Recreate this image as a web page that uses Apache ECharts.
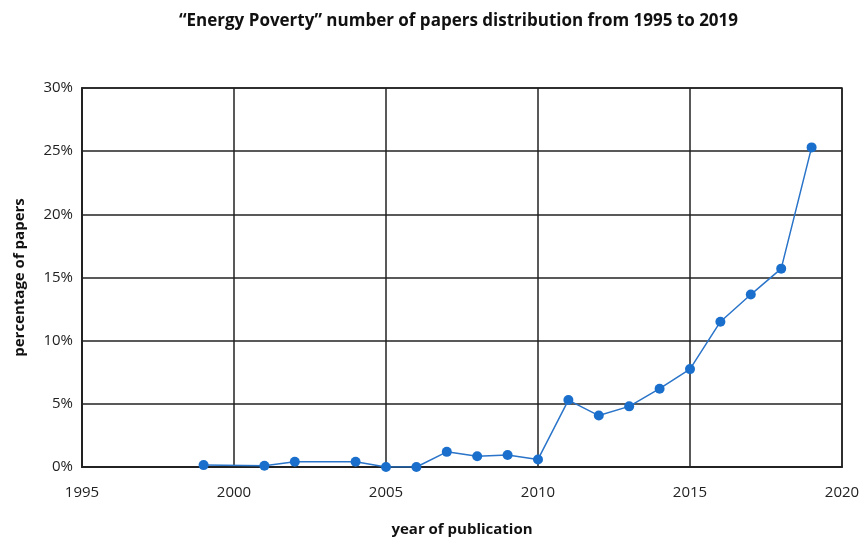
<!DOCTYPE html>
<html>
<head>
<meta charset="utf-8">
<script src="https://cdn.jsdelivr.net/npm/echarts@6/dist/echarts.min.js"></script>
<style>html,body{margin:0;padding:0;background:#fff}#c{width:864px;height:540px}</style>
</head>
<body>
<div id="c"></div>
<script>
const years = [1999, 2001, 2002, 2004, 2005, 2006, 2007, 2008, 2009, 2010, 2011, 2012, 2013, 2014, 2015, 2016, 2017, 2018, 2019];
const percents = [0.15, 0.1, 0.42, 0.42, 0.0, 0.0, 1.2, 0.85, 0.95, 0.6, 5.3, 4.07, 4.8, 6.2, 7.75, 11.5, 13.65, 15.7, 25.3];
const titleText = '\u201cEnergy Poverty\u201d number of papers distribution from 1995 to 2019';
const xName = 'year of publication';
const yName = 'percentage of papers';

const chart = echarts.init(document.getElementById('c'));
const font = '"Open Sans", "Noto Sans", sans-serif';
chart.setOption({
  animation: false,
  title: {
    text: titleText, left: 174, top: 8,
    textStyle: {fontFamily: font, fontSize: 17, fontWeight: 'bold', color: '#111'}
  },
  grid: {left: 82, right: 22, top: 88, bottom: 73, outerBoundsMode: 'none', containLabel: false,
         show: true, borderColor: '#222', borderWidth: 1.5, backgroundColor: 'transparent'},
  xAxis: {
    type: 'value', min: 1995, max: 2020, interval: 5,
    name: xName, nameLocation: 'middle', nameGap: 55,
    nameTextStyle: {fontFamily: font, fontSize: 15, fontWeight: 'bold', color: '#111'},
    axisLine: {show: true, lineStyle: {color: '#222', width: 2}},
    axisTick: {show: false},
    axisLabel: {fontFamily: font, fontSize: 15, color: '#222', margin: 18, formatter: v => String(v)},
    splitLine: {show: true, lineStyle: {color: '#222', width: 1.5}}
  },
  yAxis: {
    type: 'value', min: 0, max: 30, interval: 5,
    name: yName, nameLocation: 'middle', nameGap: 55,
    nameTextStyle: {fontFamily: font, fontSize: 15, fontWeight: 'bold', color: '#111'},
    axisLine: {show: true, lineStyle: {color: '#222', width: 2}},
    axisTick: {show: false},
    axisLabel: {fontFamily: font, fontSize: 15, color: '#222', margin: 9, formatter: '{value}%'},
    splitLine: {show: true, lineStyle: {color: '#222', width: 1.5}}
  },
  series: [{
    type: 'line',
    data: years.map((y, i) => [y, percents[i]]),
    symbol: 'circle', symbolSize: 10,
    lineStyle: {color: '#2a74c9', width: 1.5},
    itemStyle: {color: '#1a6fcc'}
  }]
});
</script>
</body>
</html>
